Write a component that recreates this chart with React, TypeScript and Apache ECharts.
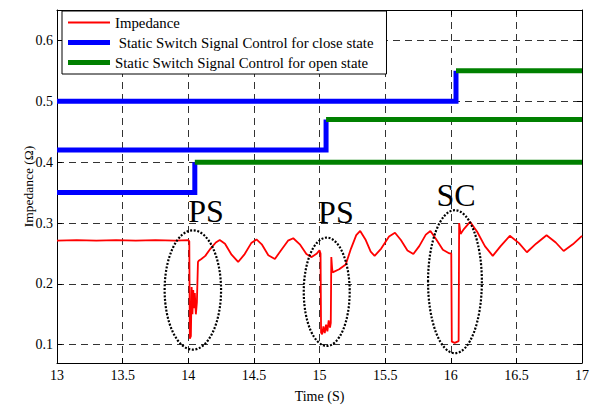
import React, { useEffect, useRef } from "react";
import * as echarts from "echarts";

const FONT = "Liberation Serif";

// x axis: time (s)
const xMin = 13;
const xMax = 17;
const xInterval = 0.5;
// y axis: impedance (ohm)
const yMin = 0.07;
const yMax = 0.65;
const yTickValues = [0.1, 0.2, 0.3, 0.4, 0.5, 0.6];

const impedanceName = "Impedance";
const closeName = "Static Switch Signal Control for close state";
const openName = "Static Switch Signal Control for open state";

// [time, impedance]
const impedance: [number, number][] = [
  [13, 0.271], [13.15, 0.272], [13.3, 0.271], [13.45, 0.272], [13.6, 0.271],
  [13.75, 0.272], [13.9, 0.271], [14.0, 0.272], [14.008, 0.27],
  [14.012, 0.11], [14.02, 0.114], [14.026, 0.195], [14.032, 0.15], [14.038, 0.19],
  [14.044, 0.16], [14.05, 0.185], [14.058, 0.15], [14.066, 0.17], [14.074, 0.236],
  [14.08, 0.238], [14.1, 0.241], [14.13, 0.246], [14.17, 0.258], [14.21, 0.268],
  [14.24, 0.272], [14.28, 0.266], [14.33, 0.248], [14.38, 0.236], [14.43, 0.249],
  [14.48, 0.267], [14.52, 0.273], [14.56, 0.265], [14.61, 0.247], [14.66, 0.241],
  [14.71, 0.256], [14.76, 0.271], [14.8, 0.275], [14.85, 0.265], [14.9, 0.249],
  [14.94, 0.244], [14.98, 0.25], [15.0, 0.255], [15.008, 0.25],
  [15.012, 0.12], [15.02, 0.117], [15.03, 0.13], [15.04, 0.119], [15.05, 0.133],
  [15.06, 0.122], [15.07, 0.14], [15.08, 0.128], [15.086, 0.136], [15.09, 0.244],
  [15.096, 0.226], [15.1, 0.219], [15.15, 0.224], [15.2, 0.232], [15.24, 0.258],
  [15.28, 0.28], [15.31, 0.287], [15.35, 0.273], [15.39, 0.253], [15.42, 0.246],
  [15.47, 0.258], [15.53, 0.278], [15.575, 0.284], [15.62, 0.272], [15.67, 0.255],
  [15.715, 0.249], [15.76, 0.262], [15.81, 0.281], [15.845, 0.287], [15.89, 0.273],
  [15.94, 0.256], [15.99, 0.25], [16.004, 0.25],
  [16.008, 0.105], [16.03, 0.103], [16.06, 0.106], [16.064, 0.3], [16.075, 0.282],
  [16.1, 0.29], [16.147, 0.302], [16.2, 0.286], [16.26, 0.262], [16.32, 0.246],
  [16.38, 0.262], [16.45, 0.279], [16.52, 0.267], [16.58, 0.252], [16.65, 0.266],
  [16.73, 0.28], [16.8, 0.268], [16.86, 0.254], [16.93, 0.265], [17, 0.279],
];

// switch signals
const stepTimes = [14.05, 15.05, 16.04];
const closeLevels = [0.35, 0.42, 0.5];
const openLevels = [0.4, 0.47, 0.55];

// annotations (data coordinates)
const annotationLabels = ["PS", "PS", "SC"];
const annotationTextPos: [number, number][] = [[14.135, 0.32], [15.125, 0.318], [16.04, 0.346]];
const ellipseCenters: [number, number][] = [[14.035, 0.19], [15.055, 0.187], [16.032, 0.2036]];
const ellipseHalfSizes: [number, number][] = [[0.215, 0.098], [0.175, 0.089], [0.205, 0.1175]];

export default function App() {
  const ref = useRef<HTMLDivElement>(null);

  useEffect(() => {
    if (!ref.current) return;
    const chart = echarts.init(ref.current, undefined, { renderer: "svg" });

    const series: any[] = [
      {
        name: impedanceName,
        type: "line",
        data: impedance,
        symbol: "none",
        lineStyle: { color: "#ff0000", width: 1.8 },
        itemStyle: { color: "#ff0000" },
        z: 3,
      },
    ];
    stepTimes.forEach((t, i) => {
      series.push({
        name: closeName,
        type: "line",
        data: [
          [xMin, closeLevels[i]],
          [t, closeLevels[i]],
          [t, openLevels[i]],
        ],
        symbol: "none",
        lineStyle: { color: "#0000ff", width: 5, join: "miter" },
        itemStyle: { color: "#0000ff" },
        z: 2,
      });
      series.push({
        name: openName,
        type: "line",
        data: [
          [t, openLevels[i]],
          [xMax, openLevels[i]],
        ],
        symbol: "none",
        lineStyle: { color: "#008000", width: 5 },
        itemStyle: { color: "#008000" },
        z: 2,
      });
    });

    const gridLine = { show: true, lineStyle: { color: "#333", width: 1, type: [7, 5] } };
    const axisLine = { show: true, lineStyle: { color: "#000", width: 1 } };

    chart.setOption({
      animation: false,
      backgroundColor: "#fff",
      textStyle: { fontFamily: FONT },
      grid: { left: 57, right: 14, top: 10, bottom: 42, containLabel: false },
      legend: {
        left: 62,
        top: 11,
        orient: "vertical",
        backgroundColor: "#fff",
        borderColor: "#000",
        borderWidth: 1,
        borderRadius: 0,
        padding: [4, 13, 4, 6],
        itemGap: 5,
        itemWidth: 42,
        itemHeight: 6,
        selectedMode: false,
        symbolKeepAspect: true,
        textStyle: { fontFamily: FONT, fontSize: 14.8, color: "#000" },
        formatter: (name: string) => (name === closeName ? " " + name : name),
        data: [
          { name: impedanceName, icon: "path://M0,0H42V2H0Z" },
          { name: closeName, icon: "path://M0,0H42V5H0Z" },
          { name: openName, icon: "path://M0,0H42V5H0Z" },
        ],
      },
      xAxis: [
        {
          type: "value",
          min: xMin,
          max: xMax,
          interval: xInterval,
          position: "bottom",
          name: "Time (S)",
          nameLocation: "middle",
          nameGap: 26,
          nameMoveOverlap: false,
          nameTextStyle: { fontFamily: FONT, fontSize: 14, color: "#000" },
          axisLine,
          axisTick: { show: true, inside: true, length: 5, lineStyle: { color: "#000" } },
          axisLabel: { fontFamily: FONT, fontSize: 14, color: "#000", margin: 5 },
          splitLine: gridLine,
        },
        {
          type: "value",
          min: xMin,
          max: xMax,
          interval: xInterval,
          position: "top",
          axisLine,
          axisTick: { show: true, inside: true, length: 5, lineStyle: { color: "#000" } },
          axisLabel: { show: false },
          splitLine: { show: false },
        },
      ],
      yAxis: [
        {
          type: "value",
          min: yMin,
          max: yMax,
          position: "left",
          name: "Impedance (Ω)",
          nameLocation: "middle",
          nameGap: 22,
          nameMoveOverlap: false,
          nameTextStyle: { fontFamily: FONT, fontSize: 13.5, color: "#000" },
          axisLine,
          axisTick: {
            show: true,
            inside: true,
            length: 5,
            lineStyle: { color: "#000" },
            customValues: yTickValues,
          },
          axisLabel: {
            fontFamily: FONT,
            fontSize: 14,
            color: "#000",
            margin: 4,
            customValues: yTickValues,
            formatter: (v: number) => v.toFixed(1),
          },
          splitLine: gridLine,
        },
        {
          type: "value",
          min: yMin,
          max: yMax,
          position: "right",
          axisLine,
          axisTick: {
            show: true,
            inside: true,
            length: 5,
            lineStyle: { color: "#000" },
            customValues: yTickValues,
          },
          axisLabel: { show: false, customValues: yTickValues },
          splitLine: { show: false },
        },
      ],
      series,
    });

    const toPx = (p: [number, number]) =>
      chart.convertToPixel({ xAxisIndex: 0, yAxisIndex: 0 } as any, p) as number[];

    const graphics: any[] = [];
    ellipseCenters.forEach((c, i) => {
      const [cx, cy] = toPx(c);
      const [ex, ey] = toPx([c[0] + ellipseHalfSizes[i][0], c[1] + ellipseHalfSizes[i][1]]);
      graphics.push({
        type: "ellipse",
        shape: { cx, cy, rx: Math.abs(ex - cx), ry: Math.abs(ey - cy) },
        style: { fill: "none", stroke: "#000", lineWidth: 2.2, lineDash: [2, 1.6] },
        z: 10,
      });
    });
    annotationLabels.forEach((label, i) => {
      const [x, y] = toPx(annotationTextPos[i]);
      graphics.push({
        type: "text",
        x,
        y,
        style: {
          text: label,
          fontFamily: FONT,
          fontSize: 32,
          fill: "#000",
          textAlign: "center",
          textVerticalAlign: "middle",
        },
        z: 10,
      });
    });
    chart.setOption({ graphic: graphics });

    return () => chart.dispose();
  }, []);

  return (
    <div
      ref={ref}
      style={{ position: "fixed", left: 0, top: 0, width: 596, height: 408, background: "#fff" }}
    />
  );
}
